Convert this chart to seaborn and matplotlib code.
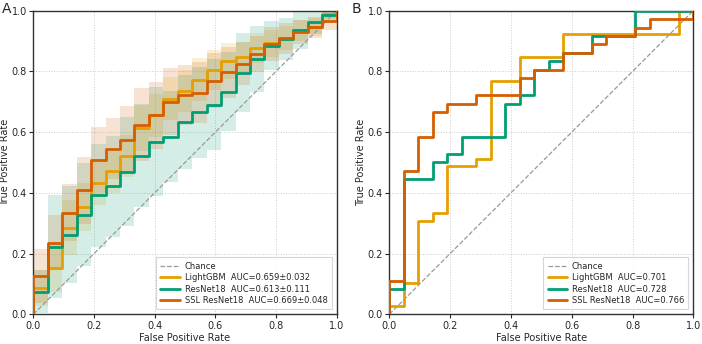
import numpy as np
import pandas as pd
import matplotlib
matplotlib.use("Agg")
import matplotlib.pyplot as plt
import seaborn as sns

# ---------------- data ----------------
n_neg = 21
fpr_steps = [k / n_neg for k in range(n_neg)]  # left edge of each step interval

# Panel A: mean TPR per FPR interval and std
lgbm_mean = [0.087, 0.153, 0.285, 0.354, 0.434, 0.473, 0.522, 0.613, 0.655, 0.710, 0.735,
             0.773, 0.805, 0.835, 0.847, 0.878, 0.892, 0.910, 0.935, 0.947, 0.988]
lgbm_std = [0.060, 0.080, 0.090, 0.080, 0.075, 0.075, 0.070, 0.075, 0.070, 0.070, 0.070,
            0.070, 0.065, 0.060, 0.050, 0.050, 0.045, 0.040, 0.035, 0.030, 0.015]
resnet_mean = [0.075, 0.222, 0.262, 0.328, 0.392, 0.421, 0.470, 0.522, 0.568, 0.585, 0.632,
               0.665, 0.690, 0.733, 0.796, 0.841, 0.885, 0.906, 0.935, 0.962, 0.986]
resnet_std = [0.070, 0.170, 0.160, 0.170, 0.170, 0.167, 0.180, 0.170, 0.180, 0.150, 0.155,
              0.150, 0.150, 0.130, 0.130, 0.110, 0.080, 0.070, 0.060, 0.040, 0.020]
ssl_mean = [0.126, 0.236, 0.335, 0.408, 0.508, 0.546, 0.575, 0.625, 0.655, 0.700, 0.722,
            0.730, 0.770, 0.797, 0.826, 0.858, 0.890, 0.909, 0.930, 0.945, 0.965]
ssl_std = [0.090, 0.090, 0.095, 0.110, 0.110, 0.100, 0.110, 0.120, 0.110, 0.110, 0.100,
           0.100, 0.090, 0.085, 0.070, 0.060, 0.055, 0.050, 0.040, 0.035, 0.030]

# Panel B: single test-set ROC curves (TPR per FPR interval)
lgbm_b = [0.026, 0.103, 0.308, 0.333, 0.487, 0.487, 0.513, 0.769, 0.769, 0.846, 0.846,
          0.846, 0.923, 0.923, 0.923, 0.923, 0.923, 0.923, 0.923, 0.923, 1.000]
resnet_b = [0.083, 0.444, 0.444, 0.500, 0.528, 0.583, 0.583, 0.583, 0.694, 0.722, 0.806,
            0.833, 0.861, 0.861, 0.917, 0.917, 0.917, 1.000, 1.000, 1.000, 1.000]
ssl_b = [0.111, 0.472, 0.583, 0.667, 0.694, 0.694, 0.722, 0.722, 0.722, 0.778, 0.806,
         0.806, 0.861, 0.861, 0.889, 0.917, 0.917, 0.944, 0.972, 0.972, 0.972]

models = ["LightGBM", "ResNet18", "SSL ResNet18"]
auc_a = ["0.659±0.032", "0.613±0.111", "0.669±0.048"]
auc_b = ["0.701", "0.728", "0.766"]
colors = ["#E69F00", "#009E73", "#D55E00"]

# ---------------- plotting ----------------
sns.set_theme(style="ticks")
plt.rcParams["font.family"] = ["DejaVu Sans"]

fig = plt.figure(figsize=(7.02, 3.44), dpi=100)
axA = fig.add_axes([0.0475, 0.0864, 0.4321, 0.8825])
axB = fig.add_axes([0.5546, 0.0864, 0.4330, 0.8825])


def step_xy(vals):
    x = [0.0] + fpr_steps + [1.0]
    y = [0.0] + list(vals) + [1.0]
    return x, y


def style_ax(ax):
    ax.plot([0, 1], [0, 1], ls="--", color="#999999", lw=0.9, label="Chance", zorder=2)
    ax.set_xlim(0, 1)
    ax.set_ylim(0, 1)
    ax.set_xticks(np.arange(0, 1.01, 0.2))
    ax.set_yticks(np.arange(0, 1.01, 0.2))
    ax.grid(True, ls=":", color="#cccccc", lw=0.7)
    ax.tick_params(labelsize=7, length=3, width=0.8, pad=1.5)
    for s in ax.spines.values():
        s.set_color("#333333")
        s.set_linewidth(1.0)


# Panel A
style_ax(axA)
for m, mean, std, c, auc in zip(models, [lgbm_mean, resnet_mean, ssl_mean],
                                [lgbm_std, resnet_std, ssl_std], colors, auc_a):
    x, y = step_xy(mean)
    lo = np.clip(np.array(mean) - np.array(std), 0, 1)
    hi = np.clip(np.array(mean) + np.array(std), 0, 1)
    xf = fpr_steps + [1.0]
    axA.fill_between(xf, list(lo) + [lo[-1]], list(hi) + [hi[-1]], step="post",
                     color=c, alpha=0.17, lw=0, zorder=1)
    df = pd.DataFrame({"fpr": x, "tpr": y})
    sns.lineplot(data=df, x="fpr", y="tpr", ax=axA, estimator=None, sort=False,
                 drawstyle="steps-post", color=c, lw=2, label=f"{m}  AUC={auc}", zorder=3)

# Panel B
style_ax(axB)
for m, vals, c, auc in zip(models, [lgbm_b, resnet_b, ssl_b], colors, auc_b):
    x, y = step_xy(vals)
    df = pd.DataFrame({"fpr": x, "tpr": y})
    sns.lineplot(data=df, x="fpr", y="tpr", ax=axB, estimator=None, sort=False,
                 drawstyle="steps-post", color=c, lw=2, label=f"{m}  AUC={auc}", zorder=3)

for ax in (axA, axB):
    ax.set_xlabel("False Positive Rate", fontsize=7, labelpad=1.5)
    ax.set_ylabel("True Positive Rate", fontsize=7, labelpad=1.5)
    leg = ax.legend(loc="lower right", fontsize=6, frameon=True, fancybox=False,
                    handlelength=2.3, borderpad=0.5, labelspacing=0.3, borderaxespad=0.6,
                    handletextpad=0.6)
    leg.get_frame().set_edgecolor("#cccccc")
    leg.get_frame().set_linewidth(0.8)

fig.text(0.003, 0.995, "A", fontsize=10, va="top", ha="left")
fig.text(0.501, 0.995, "B", fontsize=10, va="top", ha="left")

fig.savefig("out.png", dpi=100)
